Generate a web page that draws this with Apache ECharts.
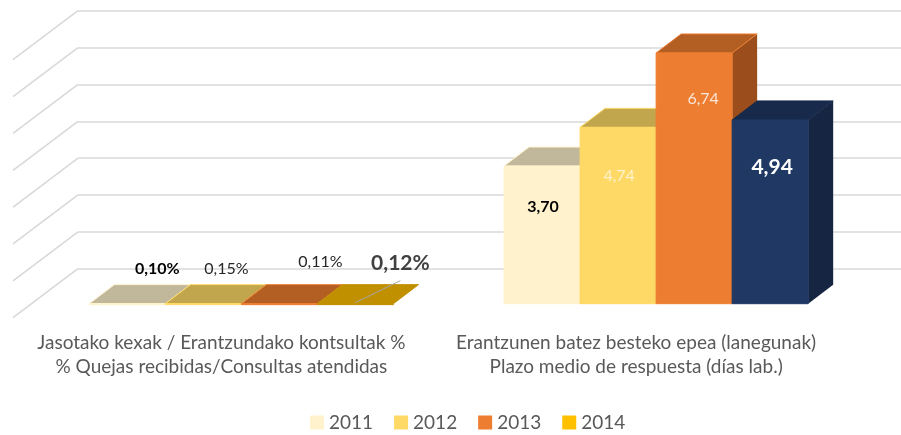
<!DOCTYPE html>
<html>
<head>
<meta charset="utf-8">
<style>html,body{margin:0;padding:0;background:#fff}#c{width:901px;height:435px}</style>
<script src="https://cdn.jsdelivr.net/npm/echarts@6/dist/echarts.min.js"></script>
</head>
<body>
<div id="c"></div>
<script>
var categories = ['Jasotako kexak / Erantzundako kontsultak %\n% Quejas recibidas/Consultas atendidas',
                  'Erantzunen batez besteko epea (lanegunak)\nPlazo medio de respuesta (días lab.)'];
var years = ['2011', '2012', '2013', '2014'];
var values2011 = [0.0010, 3.70];
var values2012 = [0.0015, 4.74];
var values2013 = [0.0011, 6.74];
var values2014 = [0.0012, 4.94];
var ticks = [0, 1, 2, 3, 4, 5, 6, 7];

var allValues = [values2011, values2012, values2013, values2014];
var legendColors = ['#FFF2CC', '#FFD966', '#ED7D31', '#FFC000'];
// per series, per category: front / top / side colours
var faces = [
  [{f:'#FFF2CC',t:'#C1B79A',s:'#BFB598'}, {f:'#FFF2CC',t:'#C1B79A',s:'#BFB598'}],
  [{f:'#FFD966',t:'#C2A64E',s:'#BFA34C'}, {f:'#FFD966',t:'#C2A64E',s:'#BFA34C'}],
  [{f:'#ED7D31',t:'#B35E23',s:'#9B4E1B'}, {f:'#ED7D31',t:'#B35E23',s:'#9B4E1B'}],
  [{f:'#C09000',t:'#C09000',s:'#A87E00'}, {f:'#1F3864',t:'#172A4B',s:'#162642'}]
];
// per series, per category: label offset from bar top centre and text style
var labelStyles = [
  [{dx:30,dy:-35,size:16,weight:'bold',color:'#000000'}, {dx:1,dy:41,size:16,weight:'bold',color:'#000000'}],
  [{dx:23,dy:-35,size:16,weight:'normal',color:'#262626'}, {dx:1,dy:48,size:16,weight:'normal',color:'#FFF2CC'}],
  [{dx:41,dy:-42,size:16,weight:'normal',color:'#262626'}, {dx:9,dy:46,size:16,weight:'normal',color:'#FBE5D6'}],
  [{dx:45,dy:-40,size:21,weight:'bold',color:'#404040'}, {dx:2,dy:47,size:21,weight:'bold',color:'#FFFFFF'}]
];
var FONT = 'Lato, "Open Sans", sans-serif';
var DEPTH_X = 25, DEPTH_Y = 19;
var WALL_X = 65, WALL_Y = 49;
var BAR_RATIO = 0.1833;

function fmt(cat, v) {
  var s = cat === 0 ? (v * 100).toFixed(2) + '%' : v.toFixed(2);
  return s.replace('.', ',');
}

function barSeries(si) {
  return {
    name: years[si],
    type: 'custom',
    xAxisIndex: 1,
    yAxisIndex: 1,
    clip: false,
    itemStyle: {color: legendColors[si]},
    data: categories.map(function (c, i) { return [i, allValues[si][i]]; }),
    encode: {x: 0, y: 1},
    renderItem: function (params, api) {
      var cat = api.value(0), v = api.value(1);
      var base = api.coord([cat, 0]), top = api.coord([cat, v]);
      var bw = api.size([1, 0])[0] * BAR_RATIO;
      var x0 = base[0] + (si - 2) * bw, x1 = x0 + bw;
      var y0 = base[1], y1 = top[1];
      var c = faces[si][cat], l = labelStyles[si][cat];
      var kids = [
        {type: 'polygon', shape: {points: [[x1, y0], [x1 + DEPTH_X, y0 - DEPTH_Y], [x1 + DEPTH_X, y1 - DEPTH_Y], [x1, y1]]},
         style: {fill: c.s}},
        {type: 'polygon', shape: {points: [[x0, y1], [x0 + DEPTH_X, y1 - DEPTH_Y], [x1 + DEPTH_X, y1 - DEPTH_Y], [x1, y1]]},
         style: {fill: c.t, stroke: si === 3 ? c.t : c.f, lineWidth: 1}},
        {type: 'rect', shape: {x: x0, y: y1, width: bw, height: Math.max(y0 - y1, 1)},
         style: {fill: c.f, stroke: cat === 0 && si === 3 ? c.t : c.f, lineWidth: 1}}
      ];
      if (cat === 0 && si === 3) {
        kids.push({type: 'line', shape: {x1: x0 + 38, y1: y1 - 1, x2: x0 + 83, y2: y1 - 23},
          style: {stroke: '#A6A6A6', lineWidth: 1}});
      }
      kids.push({type: 'text', style: {
        text: fmt(cat, v), x: (x0 + x1) / 2 + l.dx, y: y1 + l.dy,
        align: 'center', verticalAlign: 'middle',
        fontFamily: FONT, fontSize: l.size, fontWeight: l.weight, fill: l.color}});
      return {type: 'group', children: kids};
    }
  };
}

var sideWalls = {
  type: 'custom',
  xAxisIndex: 0,
  yAxisIndex: 0,
  clip: false,
  silent: true,
  data: ticks.map(function (t) { return [0, t]; }),
  encode: {y: 1},
  renderItem: function (params, api) {
    var y = api.coord([0, api.value(1)])[1];
    var x = params.coordSys.x;
    return {type: 'line', shape: {x1: x, y1: y, x2: x - WALL_X, y2: y + WALL_Y},
      style: {stroke: '#D9D9D9', lineWidth: 1.6}};
  }
};

var chart = echarts.init(document.getElementById('c'), null, {renderer: 'canvas'});
chart.setOption({
  animation: false,
  backgroundColor: '#ffffff',
  textStyle: {fontFamily: FONT},
  grid: [
    {left: 78, right: 0, top: 10.7, height: 258},
    {left: 34, width: 829.5, top: 43.3, height: 260.4}
  ],
  xAxis: [
    {gridIndex: 0, type: 'category', data: [''], axisLine: {show: false}, axisTick: {show: false}, axisLabel: {show: false}},
    {gridIndex: 1, type: 'category', data: categories, axisLine: {show: false}, axisTick: {show: false},
     axisLabel: {interval: 0, margin: 27, color: '#595959', fontSize: 19, lineHeight: 24, fontFamily: FONT, padding: [0, 40, 0, 0]}}
  ],
  yAxis: [
    {gridIndex: 0, type: 'value', min: 0, max: 7, interval: 1, axisLine: {show: false}, axisTick: {show: false}, axisLabel: {show: false},
     splitLine: {lineStyle: {color: '#D9D9D9', width: 1.6}}},
    {gridIndex: 1, type: 'value', min: 0, max: 7, interval: 1, axisLine: {show: false}, axisTick: {show: false}, axisLabel: {show: false},
     splitLine: {show: false}}
  ],
  legend: {
    data: years, left: 310, top: 413, padding: 0, selectedMode: false,
    itemWidth: 14, itemHeight: 14, itemGap: 21, icon: 'rect',
    textStyle: {color: '#595959', fontSize: 19, fontFamily: FONT}
  },
  series: [sideWalls].concat(years.map(function (y, i) { return barSeries(i); }))
});
</script>
</body>
</html>
